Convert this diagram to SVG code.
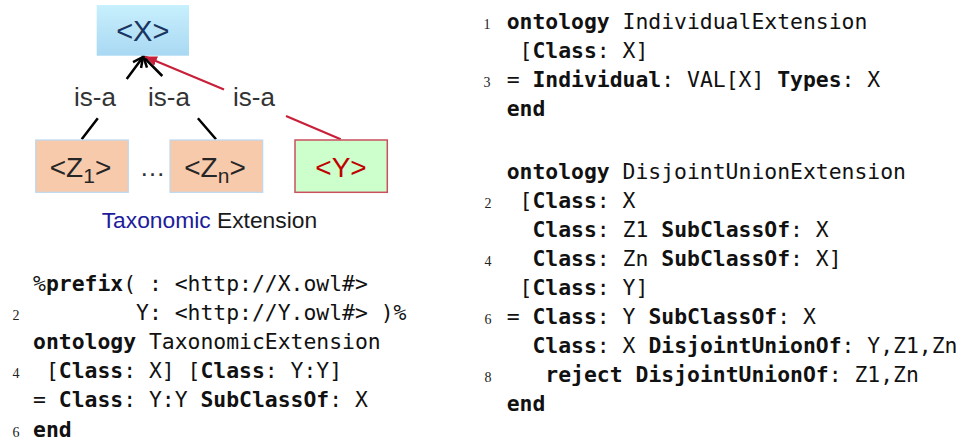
<svg xmlns="http://www.w3.org/2000/svg" width="961" height="443" viewBox="0 0 961 443">
  <style>
    .code { font-family: "DejaVu Sans Mono", "Liberation Mono", monospace; font-size: 21.4px; fill: #111; white-space: pre; }
    .b { font-weight: bold; }
    .ln { font-family: "Liberation Serif", "DejaVu Serif", serif; font-size: 14px; fill: #222; text-anchor: middle; }
    .lbl { font-family: "Liberation Sans", Arial, sans-serif; }
    .isa { font-family: "Liberation Sans", Arial, sans-serif; font-size: 26px; fill: #333; text-anchor: middle; }
    .blk { fill: none; stroke: #000; stroke-width: 2.5; }
    .red { fill: none; stroke: #c8203a; stroke-width: 2.2; }
  </style>
  <defs>
    <linearGradient id="xfill" x1="0" y1="0" x2="0" y2="1">
      <stop offset="0" stop-color="#c8f0fd"/>
      <stop offset="1" stop-color="#a9d8f3"/>
    </linearGradient>
    <marker id="openArrow" markerUnits="userSpaceOnUse" markerWidth="14" markerHeight="14" refX="11" refY="6" orient="auto" viewBox="0 0 14 12">
      <path d="M1,1 L11,6 L1,11" fill="none" stroke="#000" stroke-width="2.5"/>
    </marker>
    <marker id="redArrow" markerUnits="userSpaceOnUse" markerWidth="14" markerHeight="12" refX="12" refY="5" orient="auto" viewBox="0 0 14 10">
      <path d="M0,0 L12,5 L0,10 Z" fill="#c8203a"/>
    </marker>
  </defs>

  <!-- taxonomy connectors -->
  <g id="connectors">
    <path class="blk" d="M81.7,139.3 L97.8,118.3 M126.7,79 L143,57" marker-end="url(#openArrow)"/>
    <path class="blk" d="M216,139.3 L197.9,118.3 M162.3,76 L143.5,57" marker-end="url(#openArrow)"/>
    <path class="red" d="M340.7,139.3 L286,116 M224,89.5 L145,56.5" marker-end="url(#redArrow)"/>
  </g>

  <g id="labels">
    <text class="isa" x="95" y="106">is-a</text>
    <text class="isa" x="169" y="106">is-a</text>
    <text class="isa" x="254" y="106">is-a</text>
  </g>

  <g id="node-X">
    <rect x="96.7" y="5" width="92.3" height="50.7" fill="url(#xfill)"/>
    <text class="lbl" x="142.8" y="40.7" font-size="29" fill="#1b3563" text-anchor="middle">&lt;X&gt;</text>
  </g>

  <g id="node-Z1">
    <rect x="35.7" y="140" width="92.6" height="52.3" fill="#f7caac" stroke="#bcd8ee" stroke-width="1.2"/>
    <text class="lbl" x="80.5" y="176.7" font-size="28" fill="#262626" text-anchor="middle">&lt;Z<tspan font-size="21" dy="6.6">1</tspan><tspan dy="-6.6">&gt;</tspan></text>
  </g>

  <g id="ellipsis">
    <text class="lbl" x="152.5" y="175.5" font-size="26" fill="#333" text-anchor="middle">…</text>
  </g>

  <g id="node-Zn">
    <rect x="170" y="140" width="92.7" height="52.3" fill="#f7caac" stroke="#bcd8ee" stroke-width="1.2"/>
    <text class="lbl" x="215" y="176.7" font-size="28" fill="#262626" text-anchor="middle">&lt;Z<tspan font-size="21" dy="6.6">n</tspan><tspan dy="-6.6">&gt;</tspan></text>
  </g>

  <g id="node-Y">
    <rect x="295" y="140" width="92.3" height="52.3" fill="#ccffcc" stroke="#c9505f" stroke-width="1.5"/>
    <text class="lbl" x="341" y="176.7" font-size="28" fill="#c00000" text-anchor="middle">&lt;Y&gt;</text>
  </g>

  <g id="caption">
    <text class="lbl" x="101.7" y="228" font-size="22.8" fill="#1a1a1a"><tspan fill="#1c1c9c">Taxonomic</tspan> Extension</text>
  </g>

  <!-- left listing: TaxonomicExtension -->
  <g id="listing-taxonomic">
    <text class="code" x="33" y="291" xml:space="preserve">%<tspan class="b">prefix</tspan>( : &lt;http://X.owl#&gt;</text>
    <text class="code" x="33" y="320.1" xml:space="preserve">        Y: &lt;http://Y.owl#&gt; )%</text>
    <text class="code" x="33" y="349.2" xml:space="preserve"><tspan class="b">ontology</tspan> TaxonomicExtension</text>
    <text class="code" x="33" y="378.3" xml:space="preserve"> [<tspan class="b">Class</tspan>: X] [<tspan class="b">Class</tspan>: Y:Y]</text>
    <text class="code" x="33" y="407.4" xml:space="preserve">= <tspan class="b">Class</tspan>: Y:Y <tspan class="b">SubClassOf</tspan>: X</text>
    <text class="code" x="33" y="436.5" xml:space="preserve"><tspan class="b">end</tspan></text>
    <text class="ln" x="16" y="320.1">2</text>
    <text class="ln" x="16" y="378.3">4</text>
    <text class="ln" x="16" y="436.5">6</text>
  </g>

  <!-- right listing: IndividualExtension -->
  <g id="listing-individual">
    <text class="code" x="506.7" y="28.5" xml:space="preserve"><tspan class="b">ontology</tspan> IndividualExtension</text>
    <text class="code" x="506.7" y="57.6" xml:space="preserve"> [<tspan class="b">Class</tspan>: X]</text>
    <text class="code" x="506.7" y="86.7" xml:space="preserve">= <tspan class="b">Individual</tspan>: VAL[X] <tspan class="b">Types</tspan>: X</text>
    <text class="code" x="506.7" y="115.8" xml:space="preserve"><tspan class="b">end</tspan></text>
    <text class="ln" x="487" y="28.5">1</text>
    <text class="ln" x="487" y="86.7">3</text>
  </g>

  <!-- right listing: DisjointUnionExtension -->
  <g id="listing-disjoint">
    <text class="code" x="506.7" y="178.5" xml:space="preserve"><tspan class="b">ontology</tspan> DisjointUnionExtension</text>
    <text class="code" x="506.7" y="207.6" xml:space="preserve"> [<tspan class="b">Class</tspan>: X</text>
    <text class="code" x="506.7" y="236.7" xml:space="preserve">  <tspan class="b">Class</tspan>: Z1 <tspan class="b">SubClassOf</tspan>: X</text>
    <text class="code" x="506.7" y="265.8" xml:space="preserve">  <tspan class="b">Class</tspan>: Zn <tspan class="b">SubClassOf</tspan>: X]</text>
    <text class="code" x="506.7" y="294.9" xml:space="preserve"> [<tspan class="b">Class</tspan>: Y]</text>
    <text class="code" x="506.7" y="324" xml:space="preserve">= <tspan class="b">Class</tspan>: Y <tspan class="b">SubClassOf</tspan>: X</text>
    <text class="code" x="506.7" y="353.1" xml:space="preserve">  <tspan class="b">Class</tspan>: X <tspan class="b">DisjointUnionOf</tspan>: Y,Z1,Zn</text>
    <text class="code" x="506.7" y="382.2" xml:space="preserve">   <tspan class="b">reject</tspan> <tspan class="b">DisjointUnionOf</tspan>: Z1,Zn</text>
    <text class="code" x="506.7" y="411.3" xml:space="preserve"><tspan class="b">end</tspan></text>
    <text class="ln" x="488" y="207.6">2</text>
    <text class="ln" x="488" y="265.8">4</text>
    <text class="ln" x="488" y="324">6</text>
    <text class="ln" x="488" y="382.2">8</text>
  </g>
</svg>
